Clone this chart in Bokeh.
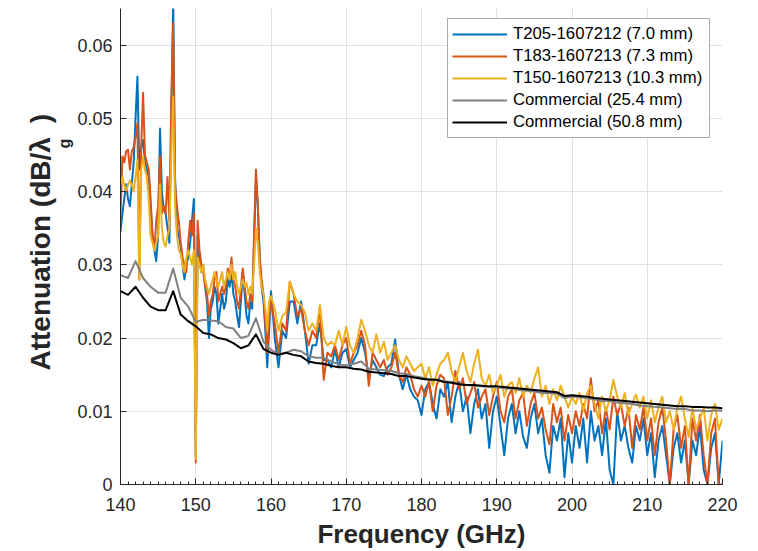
import numpy as np
from bokeh.plotting import figure
from bokeh.models import Range1d, SingleIntervalTicker, CustomJSTickFormatter, Title
from bokeh.embed import file_html
from bokeh.resources import INLINE

# ---------------- data ----------------
freq_fine = np.arange(140.0, 160.0, 0.25)      # 140.00 .. 159.75
freq_coarse = np.arange(160.0, 220.01, 0.5)    # 160.0 .. 220.0
freq_comm = np.arange(140.0, 220.01, 1.0)      # 140 .. 220

t205_fine = [
    0.0345, 0.037, 0.039, 0.041, 0.039, 0.038, 0.041, 0.044,
    0.050, 0.0557, 0.043, 0.046, 0.047, 0.044, 0.043, 0.042,
    0.038, 0.034, 0.032, 0.0305, 0.034, 0.0486, 0.040, 0.0375,
    0.037, 0.035, 0.033, 0.050, 0.066, 0.042, 0.035, 0.034,
    0.0325, 0.030, 0.028, 0.030, 0.031, 0.033, 0.036, 0.039,
    0.004, 0.034, 0.031, 0.029, 0.030, 0.027, 0.025, 0.020,
    0.024, 0.025, 0.027, 0.026, 0.022, 0.024, 0.026, 0.024,
    0.025, 0.028, 0.027, 0.029, 0.026, 0.025, 0.023, 0.0215,
    0.025, 0.029, 0.026, 0.023, 0.022, 0.025, 0.024, 0.033,
    0.042, 0.038, 0.031, 0.027, 0.025, 0.021, 0.016, 0.021,
]
t205_coarse = [
    0.0264, 0.020, 0.016, 0.021, 0.020, 0.025, 0.025, 0.022, 0.025, 0.021,
    0.0165, 0.019, 0.019, 0.022, 0.017, 0.017, 0.016, 0.0185, 0.016, 0.018,
    0.0185, 0.016, 0.017, 0.018, 0.020, 0.018, 0.0145, 0.017, 0.016, 0.015,
    0.0148, 0.016, 0.0165, 0.0198, 0.015, 0.013, 0.015, 0.013, 0.012, 0.0115,
    0.0095, 0.013, 0.014, 0.011, 0.009, 0.013, 0.012, 0.014, 0.0085, 0.012,
    0.014, 0.010, 0.012, 0.007, 0.011, 0.013, 0.009, 0.011, 0.005, 0.010,
    0.012, 0.008, 0.004, 0.009, 0.011, 0.007, 0.010, 0.0065, 0.005, 0.009,
    0.011, 0.007, 0.009, 0.004, 0.0016, 0.008, 0.006, 0.009, 0.001, 0.007,
    0.003, 0.008, 0.005, 0.009, 0.003, 0.010, 0.006, 0.008, 0.004, 0.009,
    0.002, 0.0, 0.010, 0.006, 0.008, 0.005, 0.003, 0.008, 0.006, 0.009,
    0.004, 0.007, 0.001, 0.006, 0.008, 0.004, 0.0, 0.005, 0.007, 0.003,
    0.006, 0.0, 0.006, 0.004, 0.008, 0.002, 0.0, 0.005, 0.007, 0.0,
    0.006,
]

t183_fine = [
    0.0366, 0.0448, 0.044, 0.0455, 0.0457, 0.043, 0.0455, 0.046,
    0.0475, 0.0493, 0.028, 0.046, 0.0535, 0.045, 0.044, 0.043,
    0.039, 0.034, 0.032, 0.036, 0.038, 0.0448, 0.037, 0.038,
    0.037, 0.042, 0.036, 0.052, 0.063, 0.041, 0.038, 0.036,
    0.033, 0.031, 0.030, 0.029, 0.033, 0.036, 0.034, 0.037,
    0.003, 0.036, 0.032, 0.030, 0.029, 0.027, 0.026, 0.023,
    0.025, 0.026, 0.028, 0.029, 0.025, 0.026, 0.027, 0.026,
    0.027, 0.0295, 0.028, 0.031, 0.028, 0.027, 0.025, 0.024,
    0.027, 0.0295, 0.027, 0.025, 0.024, 0.026, 0.025, 0.034,
    0.043, 0.038, 0.031, 0.028, 0.026, 0.022, 0.018, 0.023,
]
t183_coarse = [
    0.025, 0.022, 0.018, 0.022, 0.021, 0.0277, 0.026, 0.023, 0.024, 0.021,
    0.019, 0.021, 0.020, 0.0243, 0.0143, 0.018, 0.0175, 0.019, 0.017, 0.019,
    0.020, 0.0165, 0.018, 0.019, 0.021, 0.019, 0.0135, 0.018, 0.017, 0.016,
    0.017, 0.015, 0.016, 0.018, 0.015, 0.014, 0.016, 0.015, 0.013, 0.012,
    0.0135, 0.012, 0.014, 0.010, 0.0135, 0.015, 0.0145, 0.0095, 0.012, 0.0155,
    0.013, 0.0145, 0.011, 0.0125, 0.014, 0.0105, 0.012, 0.013, 0.0095, 0.012,
    0.014, 0.010, 0.0085, 0.012, 0.013, 0.009, 0.0115, 0.0125, 0.008, 0.011,
    0.0125, 0.009, 0.0105, 0.0075, 0.0055, 0.011, 0.0085, 0.0105, 0.006, 0.0095,
    0.007, 0.010, 0.008, 0.011, 0.009, 0.0145, 0.010, 0.0115, 0.007, 0.0105,
    0.0075, 0.012, 0.0095, 0.011, 0.008, 0.0105, 0.005, 0.0095, 0.0075, 0.0105,
    0.006, 0.009, 0.004, 0.0085, 0.0105, 0.006, 0.0, 0.0075, 0.0095, 0.005,
    0.008, 0.0, 0.009, 0.006, 0.0095, 0.004, 0.0, 0.007, 0.009, 0.0,
    0.0,
]

t150_fine = [
    0.041, 0.042, 0.041, 0.040, 0.041, 0.0415, 0.041, 0.040,
    0.042, 0.0443, 0.028, 0.043, 0.0448, 0.043, 0.042, 0.039,
    0.034, 0.033, 0.032, 0.033, 0.034, 0.041, 0.035, 0.033,
    0.0325, 0.034, 0.035, 0.045, 0.053, 0.038, 0.034, 0.032,
    0.0315, 0.030, 0.029, 0.031, 0.032, 0.031, 0.030, 0.032,
    0.0035, 0.031, 0.030, 0.029, 0.030, 0.028, 0.027, 0.026,
    0.027, 0.028, 0.029, 0.028, 0.027, 0.028, 0.029, 0.027,
    0.028, 0.029, 0.028, 0.030, 0.028, 0.029, 0.027, 0.026,
    0.027, 0.028, 0.027, 0.0275, 0.026, 0.027, 0.026, 0.030,
    0.035, 0.033, 0.029, 0.027, 0.026, 0.024, 0.021, 0.025,
]
t150_coarse = [
    0.0257, 0.024, 0.021, 0.023, 0.0235, 0.0277, 0.026, 0.025, 0.0245, 0.0235,
    0.021, 0.022, 0.021, 0.0245, 0.020, 0.019, 0.0195, 0.019, 0.021, 0.019,
    0.0215, 0.019, 0.018, 0.020, 0.0225, 0.021, 0.019, 0.018, 0.0205, 0.018,
    0.0195, 0.017, 0.018, 0.019, 0.017, 0.016, 0.0175, 0.0165, 0.0155, 0.016,
    0.0165, 0.0145, 0.016, 0.0135, 0.015, 0.0165, 0.017, 0.018, 0.0155, 0.014,
    0.016, 0.018, 0.0155, 0.014, 0.0165, 0.0184, 0.0145, 0.0135, 0.015, 0.0125,
    0.0135, 0.015, 0.012, 0.0135, 0.014, 0.0125, 0.0145, 0.012, 0.0135, 0.0125,
    0.0145, 0.016, 0.012, 0.0135, 0.011, 0.013, 0.0115, 0.0135, 0.012, 0.0105,
    0.012, 0.011, 0.0125, 0.010, 0.0125, 0.0135, 0.011, 0.009, 0.012, 0.010,
    0.0115, 0.0143, 0.012, 0.0105, 0.0125, 0.0095, 0.011, 0.0123, 0.0105, 0.012,
    0.009, 0.0115, 0.0085, 0.0105, 0.012, 0.0085, 0.010, 0.0075, 0.0105, 0.012,
    0.009, 0.0065, 0.0105, 0.0075, 0.009, 0.0105, 0.006, 0.0095, 0.011, 0.0075,
    0.009,
]

comm_254 = [
    0.0286, 0.0282, 0.0305, 0.0282, 0.0270, 0.0262, 0.0262, 0.0295, 0.0255, 0.0243,
    0.0222, 0.0225, 0.0224, 0.0223, 0.0215, 0.0213, 0.0200, 0.0203, 0.0227, 0.0195,
    0.0184, 0.0178, 0.0180, 0.0184, 0.0182, 0.0175, 0.0173, 0.0173, 0.0168, 0.0164,
    0.0163, 0.0165, 0.0168, 0.0158, 0.0157, 0.0156, 0.0155, 0.0152, 0.0151, 0.0148,
    0.0146, 0.0144, 0.0143, 0.0141, 0.0140, 0.0137, 0.0136, 0.0135, 0.0134, 0.0133,
    0.0133, 0.0131, 0.0131, 0.0129, 0.0128, 0.0127, 0.0125, 0.0125, 0.0124, 0.0118,
    0.0120, 0.0119, 0.0118, 0.0116, 0.0114, 0.0114, 0.0112, 0.0111, 0.0110, 0.0108,
    0.0107, 0.0106, 0.0105, 0.0104, 0.0103, 0.0103, 0.0101, 0.0101, 0.0100, 0.0101,
    0.0101,
]
comm_508 = [
    0.0264, 0.0259, 0.0270, 0.0255, 0.0243, 0.0238, 0.0238, 0.0264, 0.0232, 0.0223,
    0.0216, 0.0207, 0.0205, 0.0200, 0.0198, 0.0193, 0.0186, 0.0190, 0.0205, 0.0185,
    0.0180, 0.0177, 0.0180, 0.0177, 0.0175, 0.0168, 0.0166, 0.0165, 0.0162, 0.0160,
    0.0160, 0.0158, 0.0157, 0.0154, 0.0153, 0.0152, 0.0151, 0.0148, 0.0148, 0.0146,
    0.01445, 0.0143, 0.0143, 0.0140, 0.0139, 0.0137, 0.0136, 0.0136, 0.0135, 0.0134,
    0.0134, 0.0133, 0.0132, 0.0131, 0.0130, 0.0129, 0.0128, 0.0127, 0.0126, 0.0121,
    0.0122, 0.0121, 0.0120, 0.0118, 0.0117, 0.0116, 0.0115, 0.0114, 0.0113, 0.0112,
    0.0111, 0.0110, 0.0109, 0.0108, 0.0107, 0.0107, 0.0106, 0.0106, 0.0105, 0.0105,
    0.0104,
]

labels = ["T205-1607212 (7.0 mm)", "T183-1607213 (7.3 mm)", "T150-1607213 (10.3 mm)",
          "Commercial (25.4 mm)", "Commercial (50.8 mm)"]
colors = ["#0072BD", "#D95319", "#EDB120", "#808080", "#000000"]

x_ticks_interval = 10
y_ticks_interval = 0.01

# ---------------- figure ----------------
FONT = "Liberation Sans"
TXT = "#262626"
W, H = 758, 551
FL, FR, FT, FB = 120, 722, 8, 486   # frame edges in pixels

p = figure(width=W, height=H, output_backend="svg", toolbar_location=None,
           x_range=Range1d(140, 220), y_range=Range1d(0, 0.065),
           min_border_left=FL, min_border_right=W - FR, min_border_top=FT,
           min_border_bottom=H - FB)
p.outline_line_color = None
p.background_fill_color = "white"
p.border_fill_color = "white"

freq_noisy = np.concatenate([freq_fine, freq_coarse])
series = [
    np.array(t205_fine + t205_coarse),
    np.array(t183_fine + t183_coarse),
    np.array(t150_fine + t150_coarse),
]
for ys, c, lab in zip(series, colors[:3], labels[:3]):
    p.line(freq_noisy, ys, line_color=c, line_width=2, line_join="round",
           legend_label=lab)
p.line(freq_comm, comm_254, line_color=colors[3], line_width=2, line_join="round",
       legend_label=labels[3])
p.line(freq_comm, comm_508, line_color=colors[4], line_width=2, line_join="round",
       legend_label=labels[4])

# axes
xa = p.xaxis[0]
xa.ticker = SingleIntervalTicker(interval=x_ticks_interval, num_minor_ticks=10)
ya = p.yaxis[0]
ya.ticker = SingleIntervalTicker(interval=y_ticks_interval, num_minor_ticks=0)
ya.formatter = CustomJSTickFormatter(code="return Math.abs(tick) < 1e-9 ? '0' : tick.toFixed(2);")

for ax in (xa, ya):
    ax.axis_line_color = TXT
    ax.axis_line_width = 1
    ax.major_tick_line_color = TXT
    ax.major_tick_in = 6
    ax.major_tick_out = 0
    ax.minor_tick_line_color = TXT
    ax.minor_tick_in = 3
    ax.minor_tick_out = 0
    ax.major_label_text_font = FONT
    ax.major_label_text_font_size = "18px"
    ax.major_label_text_color = TXT
ya.minor_tick_line_color = None
xa.major_label_standoff = 13
ya.major_label_standoff = 8

xa.axis_label = "Frequency (GHz)"
xa.axis_label_text_font = FONT
xa.axis_label_text_font_size = "26px"
xa.axis_label_text_font_style = "bold"
xa.axis_label_text_color = TXT
xa.axis_label_standoff = 5

# grid
p.xgrid.grid_line_color = "#E0E0E0"
p.ygrid.grid_line_color = "#E0E0E0"
p.xgrid.grid_line_width = 1
p.ygrid.grid_line_width = 1

# y-axis label "Attenuation (dB/λ_g)" as two left-side titles (subscript g nearer the axis)
title_g = Title(text="g", align="left", offset=336, text_font=FONT,
                text_font_size="16px", text_font_style="bold", text_color=TXT,
                standoff=0, vertical_align="top")
title_main = Title(text="Attenuation (dB/\u03bb\u2002)", align="left", offset=114,
                   text_font=FONT, text_font_size="28px", text_font_style="bold",
                   text_color=TXT, standoff=0)
p.add_layout(title_g, "left")
p.add_layout(title_main, "left")

# legend
lg = p.legend[0]
lg.location = (327, 346)
lg.label_text_font = FONT
lg.label_text_font_size = "16.7px"
lg.label_text_color = "#000000"
lg.glyph_width = 55
lg.glyph_height = 22
lg.label_height = 22
lg.label_width = 192
lg.label_standoff = 6
lg.spacing = 0
lg.padding = 4
lg.margin = 0
lg.border_line_color = "#5A5A5A"
lg.border_line_width = 1
lg.background_fill_color = "white"
lg.background_fill_alpha = 1.0

open("out.html", "w").write(file_html(p, INLINE))
